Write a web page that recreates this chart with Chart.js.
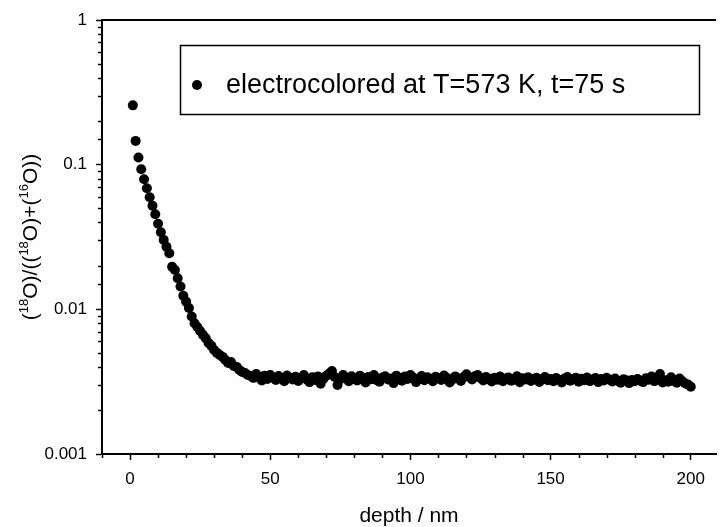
<!DOCTYPE html>
<html>
<head>
<meta charset="utf-8">
<script src="https://cdn.jsdelivr.net/npm/chart.js@4.4.1/dist/chart.umd.min.js"></script>
<style>
html,body{margin:0;padding:0;background:#fff;}
#wrap{width:721px;height:527px;position:relative;}
</style>
</head>
<body>
<div id="wrap"><canvas id="c"></canvas></div>
<script>
// depth in nm
const DEPTH = [
  1,2,3,4,5,6,7,8,9,10,11,12,13,14,15,16,17,18,19,20,
  21,22,23,24,25,26,27,28,29,30,31,32,33,34,35,36,37,38,39,40,
  41,42,43,44,45,46,47,48,49,50,51,52,53,54,55,56,57,58,59,60,
  61,62,63,64,65,66,67,68,69,70,71,72,73,74,75,76,77,78,79,80,
  81,82,83,84,85,86,87,88,89,90,91,92,93,94,95,96,97,98,99,100,
  101,102,103,104,105,106,107,108,109,110,111,112,113,114,115,116,117,118,119,120,
  121,122,123,124,125,126,127,128,129,130,131,132,133,134,135,136,137,138,139,140,
  141,142,143,144,145,146,147,148,149,150,151,152,153,154,155,156,157,158,159,160,
  161,162,163,164,165,166,167,168,169,170,171,172,173,174,175,176,177,178,179,180,
  181,182,183,184,185,186,187,188,189,190,191,192,193,194,195,196,197,198,199,200
];
// (18O)/((18O)+(16O))
const RATIO = [
  0.257,0.146,0.112,0.0929,0.0792,0.0687,0.0595,0.0521,0.0454,0.0390,
  0.0341,0.0302,0.0271,0.0244,0.0197,0.0187,0.0164,0.0144,0.0124,0.0113,
  0.0102,0.00891,0.00802,0.00755,0.00709,0.00666,0.00632,0.00586,0.00559,0.00524,
  0.00500,0.00484,0.00469,0.00447,0.00426,0.00433,0.00406,0.00400,0.00381,0.00369,
  0.00363,0.00352,0.00346,0.00336,0.00357,0.00341,0.00322,0.00348,0.00330,0.00352,
  0.00338,0.00325,0.00346,0.00331,0.00318,0.00349,0.00335,0.00327,0.00342,0.00320,
  0.00336,0.00351,0.00328,0.00314,0.00339,0.00325,0.00344,0.00306,0.00332,0.00347,
  0.00360,0.00375,0.00341,0.00300,0.00329,0.00352,0.00337,0.00318,0.00345,0.00331,
  0.00322,0.00348,0.00336,0.00312,0.00340,0.00329,0.00351,0.00323,0.00316,0.00338,
  0.00345,0.00327,0.00333,0.00309,0.00348,0.00335,0.00321,0.00343,0.00330,0.00352,
  0.00338,0.00314,0.00329,0.00346,0.00324,0.00339,0.00331,0.00318,0.00342,0.00334,
  0.00325,0.00349,0.00336,0.00312,0.00328,0.00344,0.00333,0.00320,0.00341,0.00356,
  0.00339,0.00327,0.00345,0.00352,0.00335,0.00322,0.00340,0.00331,0.00317,0.00336,
  0.00326,0.00343,0.00318,0.00332,0.00338,0.00321,0.00329,0.00345,0.00313,0.00334,
  0.00327,0.00339,0.00320,0.00331,0.00336,0.00315,0.00328,0.00341,0.00323,0.00330,
  0.00318,0.00335,0.00326,0.00312,0.00333,0.00340,0.00321,0.00329,0.00337,0.00316,
  0.00331,0.00324,0.00338,0.00319,0.00327,0.00335,0.00314,0.00330,0.00322,0.00336,
  0.00326,0.00317,0.00333,0.00320,0.00311,0.00328,0.00323,0.00309,0.00325,0.00318,
  0.00330,0.00321,0.00314,0.00334,0.00326,0.00343,0.00319,0.00328,0.00357,0.00312,
  0.00324,0.00316,0.00339,0.00320,0.00311,0.00333,0.00318,0.00307,0.00302,0.00292
];
const X_TICKS = [-10,0,10,20,30,40,50,60,70,80,90,100,110,120,130,140,150,160,170,180,190,200];
const Y_TICK_LABELS = ['0.001','0.01','0.1','1'];
const SERIES_LABEL = 'electrocolored at T=573 K, t=75 s';
const X_TITLE = 'depth / nm';
// [text, superscript?]
const Y_TITLE = [['(',0],['18',1],['O)/((',0],['18',1],['O)+(',0],['16',1],['O))',0]];

const FONT = "'Liberation Sans', Arial, Helvetica, sans-serif";

function isDecade(v){
  const e = Math.log10(v);
  return Math.abs(e - Math.round(e)) < 1e-9;
}
function isMajorX(v){ return v % 50 === 0; }

const framePlugin = {
  id:'frame',
  afterDraw(chart){
    const ctx = chart.ctx;
    const {left, top, right, bottom} = chart.chartArea;
    const xs = chart.scales.x, ys = chart.scales.y;
    ctx.save();
    ctx.strokeStyle = '#000';
    ctx.fillStyle = '#000';

    // top frame line
    ctx.lineWidth = 2;
    ctx.beginPath();
    ctx.moveTo(left - 1, top);
    ctx.lineTo(right, top);
    ctx.stroke();

    // minor ticks
    ctx.lineWidth = 1.5;
    ctx.beginPath();
    ys.ticks.forEach(t=>{
      if(isDecade(t.value)) return;
      const py = Math.round(ys.getPixelForValue(t.value)) + 0.5;
      ctx.moveTo(left, py);
      ctx.lineTo(left - 4, py);
    });
    xs.ticks.forEach(t=>{
      if(isMajorX(t.value)) return;
      const px = Math.round(xs.getPixelForValue(t.value)) + 0.5;
      ctx.moveTo(px, bottom);
      ctx.lineTo(px, bottom + 4);
    });
    ctx.stroke();

    // legend box
    const lx = left + 78, ly = top + 25;
    ctx.lineWidth = 1.5;
    ctx.strokeRect(lx + 0.5, ly + 0.5, 519, 69);
    ctx.beginPath();
    ctx.arc(lx + 17, ly + 40, 5, 0, Math.PI*2);
    ctx.fill();
    ctx.font = `27px ${FONT}`;
    ctx.textBaseline = 'middle';
    ctx.textAlign = 'left';
    ctx.fillText(SERIES_LABEL, lx + 46, ly + 41);

    // y axis title with superscripts
    const mainFont = `21px ${FONT}`, supFont = `13px ${FONT}`;
    let total = 0;
    Y_TITLE.forEach(([s, sup])=>{
      ctx.font = sup ? supFont : mainFont;
      total += ctx.measureText(s).width;
    });
    ctx.translate(29, (top + bottom) / 2);
    ctx.rotate(-Math.PI/2);
    ctx.textBaseline = 'alphabetic';
    let cx = -total/2;
    Y_TITLE.forEach(([s, sup])=>{
      ctx.font = sup ? supFont : mainFont;
      ctx.fillText(s, cx, sup ? -1 : 8);
      cx += ctx.measureText(s).width;
    });
    ctx.restore();
  }
};

new Chart(document.getElementById('c'), {
  type:'scatter',
  data:{
    datasets:[{
      label: SERIES_LABEL,
      data: DEPTH.map((d,i)=>({x:d, y:RATIO[i]})),
      pointRadius:5,
      pointHoverRadius:5,
      pointBackgroundColor:'#000',
      pointBorderWidth:0,
      showLine:false
    }]
  },
  options:{
    responsive:true,
    maintainAspectRatio:false,
    animation:false,
    layout:{ padding:{top:20, left:0, right:0, bottom:0} },
    plugins:{ legend:{display:false}, tooltip:{enabled:false} },
    scales:{
      x:{
        type:'linear', position:'bottom', min:-10, max:209,
        border:{display:true, color:'#000', width:2},
        grid:{display:true, drawOnChartArea:false, drawTicks:true, tickLength:6, tickWidth:1.5,
          tickColor:(c)=> (c.tick && isMajorX(c.tick.value)) ? '#000' : 'rgba(0,0,0,0)'},
        ticks:{autoSkip:false, maxRotation:0, padding:9, color:'#000',
          font:{family:FONT, size:17},
          callback:(v)=> isMajorX(v) ? String(v) : ''},
        title:{display:true, text:X_TITLE, color:'#000', font:{family:FONT, size:21, lineHeight:1}, padding:0},
        afterBuildTicks:(s)=>{ s.ticks = X_TICKS.map(v=>({value:v})); },
        afterFit:(s)=>{ s.height = 73; s.paddingLeft = 0; s.paddingRight = 0; }
      },
      y:{
        type:'logarithmic', position:'left', min:0.001, max:1,
        border:{display:true, color:'#000', width:2},
        grid:{display:true, drawOnChartArea:false, drawTicks:true, tickLength:6, tickWidth:1.5,
          tickColor:(c)=> (c.tick && isDecade(c.tick.value)) ? '#000' : 'rgba(0,0,0,0)'},
        ticks:{autoSkip:false, padding:9, color:'#000',
          font:{family:FONT, size:17},
          callback:(v)=> isDecade(v) ? Y_TICK_LABELS[Math.round(Math.log10(v)) + 3] : ''},
        afterFit:(s)=>{ s.width = 102; s.paddingTop = 0; s.paddingBottom = 0; }
      }
    }
  },
  plugins:[framePlugin]
});
</script>
</body>
</html>
